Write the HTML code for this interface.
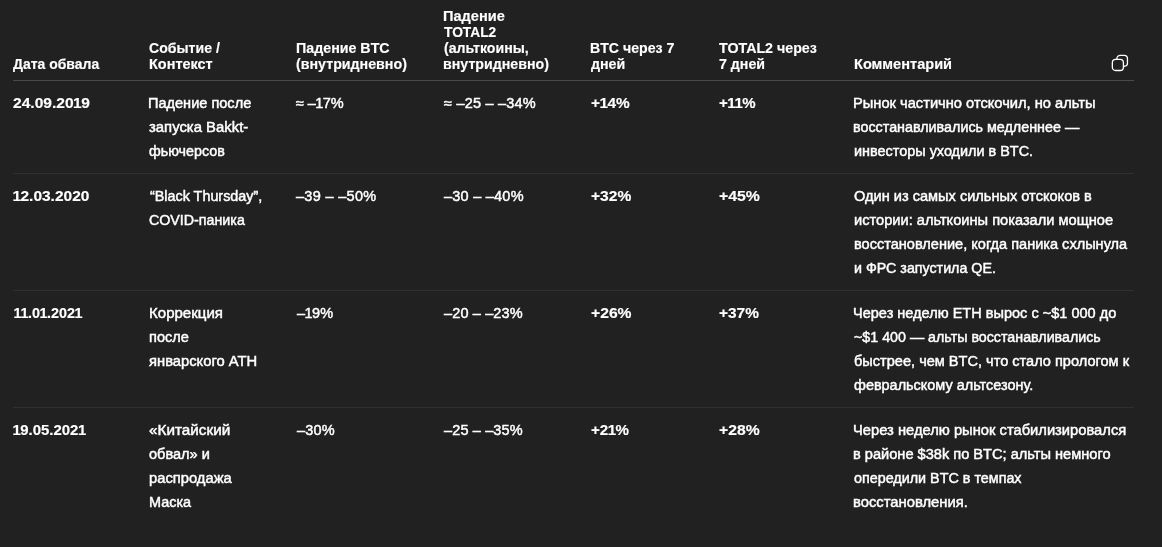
<!DOCTYPE html>
<html lang="ru">
<head>
<meta charset="utf-8">
<title>Таблица обвалов</title>
<style>
html,body{margin:0;padding:0;background:#212121;}
body{width:1162px;height:547px;overflow:hidden;position:relative;color:#fff;
 font-family:"Liberation Sans",sans-serif;font-size:14px;}
table{position:absolute;left:13px;top:0;width:1121px;border-collapse:separate;border-spacing:0;table-layout:fixed;}
th,td{text-align:left;vertical-align:top;padding:10px 0;white-space:nowrap;font-weight:400;line-height:24px;}
th{vertical-align:bottom;font-weight:700;line-height:16px;padding:8px 0 8px 0;border-bottom:1px solid #4a4a4a;}
td{border-bottom:1px solid #303030;}
tr:last-child td{border-bottom:none;}
td.b{font-weight:700;}
span.l{display:block;white-space:nowrap;width:max-content;transform-origin:0 50%;}
td span.l{-webkit-text-stroke:0.45px #fff;}
td.b span.l,th span.l{-webkit-text-stroke:0.15px #fff;}
.copy{position:absolute;left:1111px;top:54px;width:18px;height:18px;}
td i{font-style:normal;margin:0 -0.5px;}
</style>
</head>
<body>
<table>
<colgroup><col style="width:136px"><col style="width:147px"><col style="width:147px"><col style="width:148px"><col style="width:127px"><col style="width:135px"><col style="width:281px"></colgroup>
<thead>
<tr>
<th><span class="l" style="transform:scaleX(0.9974);margin-left:-0.28px">Дата обвала</span></th>
<th><span class="l" style="transform:scaleX(1.0073);margin-left:0.25px">Событие /</span><span class="l" style="transform:scaleX(1.0329);margin-left:-0.30px">Контекст</span></th>
<th><span class="l" style="transform:scaleX(1.0175)">Падение BTC</span><span class="l" style="transform:scaleX(1.0163);margin-left:0.14px">(внутридневно)</span></th>
<th><span class="l" style="transform:scaleX(1.0401);margin-left:0.20px">Падение</span><span class="l" style="transform:scaleX(0.9832);margin-left:1.14px">TOTAL2</span><span class="l" style="transform:scaleX(1.0096);margin-left:0.63px">(альткоины,</span><span class="l" style="transform:scaleX(1.0144);margin-left:0.44px">внутридневно)</span></th>
<th><span class="l" style="transform:scaleX(1.0093);margin-left:-0.90px">BTC через 7</span><span class="l" style="transform:scaleX(1.0150);margin-left:0.10px">дней</span></th>
<th><span class="l" style="transform:scaleX(1.0163);margin-left:1.25px">TOTAL2 через</span><span class="l" style="transform:scaleX(1.0137);margin-left:0.92px">7 дней</span></th>
<th><span class="l" style="transform:scaleX(1.0398);margin-left:0.58px">Комментарий</span></th>
</tr>
</thead>
<tbody>
<tr>
<td class="b"><span class="l" style="transform:scaleX(1.1125);margin-left:0.42px">24.09.20<i>1</i>9</span></td>
<td><span class="l" style="transform:scaleX(1.0389);margin-left:-0.70px">Падение после</span><span class="l" style="transform:scaleX(1.0628);margin-left:0.14px">запуска Bakkt-</span><span class="l" style="transform:scaleX(1.0198);margin-left:0.20px">фьючерсов</span></td>
<td class="n"><span class="l" style="letter-spacing:-0.078px;transform:scaleX(1.0350);margin-left:0.07px">≈ –<i>1</i>7%</span></td>
<td class="n"><span class="l" style="letter-spacing:0.213px;transform:scaleX(1.0350);margin-left:0.85px">≈ –25 – –34%</span></td>
<td class="b"><span class="l" style="transform:scaleX(1.1010);margin-left:-0.30px">+<i>1</i>4%</span></td>
<td class="b"><span class="l" style="transform:scaleX(1.0721);margin-left:0.74px">+<i>1</i><i>1</i>%</span></td>
<td><span class="l" style="transform:scaleX(1.0474);margin-left:0.30px">Рынок частично отскочил, но альты</span><span class="l" style="transform:scaleX(1.0231);margin-left:0.13px">восстанавливались медленнее —</span><span class="l" style="transform:scaleX(1.0304);margin-left:0.81px">инвесторы уходили в BTC.</span></td>
</tr>
<tr>
<td class="b"><span class="l" style="transform:scaleX(1.1051);margin-left:0.46px"><i>1</i>2.03.2020</span></td>
<td><span class="l" style="transform:scaleX(1.0256);margin-left:0.87px">“Black Thursday”,</span><span class="l" style="transform:scaleX(1.0177);margin-left:0.17px">COVID-паника</span></td>
<td class="n"><span class="l" style="letter-spacing:0.300px;transform:scaleX(1.0350)">–39 – –50%</span></td>
<td class="n"><span class="l" style="letter-spacing:0.235px;transform:scaleX(1.0350);margin-left:0.90px">–30 – –40%</span></td>
<td class="b"><span class="l" style="transform:scaleX(1.1131);margin-left:0.33px">+32%</span></td>
<td class="b"><span class="l" style="transform:scaleX(1.1289);margin-left:0.74px">+45%</span></td>
<td><span class="l" style="transform:scaleX(1.0416);margin-left:0.75px">Один из самых сильных отскоков в</span><span class="l" style="transform:scaleX(1.0448);margin-left:0.81px">истории: альткоины показали мощное</span><span class="l" style="transform:scaleX(1.0394);margin-left:0.57px">восстановление, когда паника схлынула</span><span class="l" style="transform:scaleX(1.0180);margin-left:0.88px">и ФРС запустила QE.</span></td>
</tr>
<tr>
<td class="b"><span class="l" style="transform:scaleX(1.0264);margin-left:1.18px"><i>1</i><i>1</i>.0<i>1</i>.202<i>1</i></span></td>
<td><span class="l" style="transform:scaleX(1.0743);margin-left:-0.18px">Коррекция</span><span class="l" style="transform:scaleX(1.0404);margin-left:-0.33px">после</span><span class="l" style="transform:scaleX(1.0544);margin-left:-0.45px">январского ATH</span></td>
<td class="n"><span class="l" style="letter-spacing:0.005px;transform:scaleX(1.0350);margin-left:0.63px">–<i>1</i>9%</span></td>
<td class="n"><span class="l" style="letter-spacing:0.142px;transform:scaleX(1.0350);margin-left:0.54px">–20 – –23%</span></td>
<td class="b"><span class="l" style="transform:scaleX(1.1206);margin-left:-0.23px">+26%</span></td>
<td class="b"><span class="l" style="transform:scaleX(1.1009);margin-left:0.81px">+37%</span></td>
<td><span class="l" style="transform:scaleX(1.0384);margin-left:0.20px">Через неделю ETH вырос с ~$1 000 до</span><span class="l" style="transform:scaleX(1.0181);margin-left:0.96px">~$1 400 — альты восстанавливались</span><span class="l" style="transform:scaleX(1.0399);margin-left:0.63px">быстрее, чем BTC, что стало прологом к</span><span class="l" style="transform:scaleX(1.0317);margin-left:0.93px">февральскому альтсезону.</span></td>
</tr>
<tr>
<td class="b"><span class="l" style="transform:scaleX(1.0675);margin-left:0.39px"><i>1</i>9.05.202<i>1</i></span></td>
<td><span class="l" style="transform:scaleX(1.0926);margin-left:0.09px">«Китайский</span><span class="l" style="transform:scaleX(1.0404);margin-left:0.48px">обвал» и</span><span class="l" style="transform:scaleX(1.0538);margin-left:-0.06px">распродажа</span><span class="l" style="transform:scaleX(1.0312);margin-left:-0.30px">Маска</span></td>
<td class="n"><span class="l" style="letter-spacing:0.162px;transform:scaleX(1.0350);margin-left:0.69px">–30%</span></td>
<td class="n"><span class="l" style="letter-spacing:0.142px;transform:scaleX(1.0350);margin-left:0.54px">–25 – –35%</span></td>
<td class="b"><span class="l" style="transform:scaleX(1.0805);margin-left:-0.32px">+2<i>1</i>%</span></td>
<td class="b"><span class="l" style="transform:scaleX(1.1215);margin-left:1.03px">+28%</span></td>
<td><span class="l" style="transform:scaleX(1.0516);margin-left:0.38px">Через неделю рынок стабилизировался</span><span class="l" style="transform:scaleX(1.0429);margin-left:0.01px">в районе $38k по BTC; альты немного</span><span class="l" style="transform:scaleX(1.0245);margin-left:0.82px">опередили BTC в темпах</span><span class="l" style="transform:scaleX(1.0562);margin-left:0.01px">восстановления.</span></td>
</tr>
</tbody>
</table>
<svg class="copy" viewBox="0 0 18 18" fill="none" stroke="#ffffff" stroke-width="1.3" stroke-linejoin="round" stroke-linecap="round">
<rect x="5.85" y="1.4" width="10.6" height="10.85" rx="3.2"/>
<rect x="1.35" y="5.45" width="11.05" height="11.05" rx="3.3" fill="#212121"/>
</svg>
</body>
</html>
